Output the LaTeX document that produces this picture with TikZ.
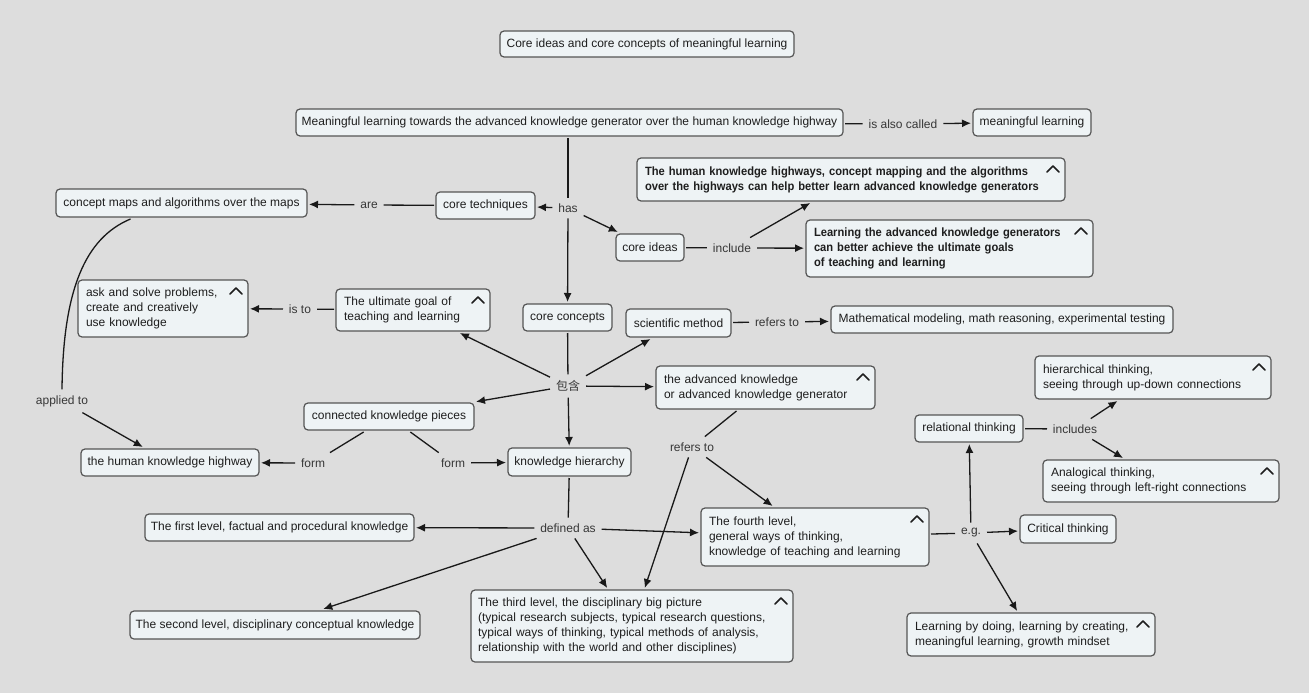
\documentclass[tikz,border=0pt]{standalone}
\usepackage{fontspec}
\setmainfont{Liberation Sans}
\newfontfamily\cjk{Noto Sans CJK SC}
\newfontfamily\bcond[FakeStretch=0.93]{Liberation Sans}
\usetikzlibrary{arrows.meta}
\definecolor{bgc}{RGB}{221,221,221}
\definecolor{boxc}{RGB}{238,243,245}
\definecolor{bordc}{RGB}{85,85,85}
\definecolor{txtc}{RGB}{30,30,30}
\definecolor{labc}{RGB}{55,55,55}
\definecolor{linec}{RGB}{25,25,25}
\newcommand{\fs}{\fontsize{12}{15}\selectfont}
\newcommand{\chev}[1]{\draw[chevst] ([shift={(-20,16)}]#1.north east) -- ++(6,-6) -- ++(6,6);}
\begin{document}
\begin{tikzpicture}[x=1pt,y=-1pt,
  box/.style={draw=bordc, fill=boxc, rounded corners=4pt, line width=1.2pt,
    minimum height=27pt, inner sep=0pt, outer sep=2pt, text=txtc, font=\fs},
  mbox/.style={box, align=left},
  lab/.style={inner sep=6pt, outer sep=0pt, text=labc, font=\fs},
  conn/.style={draw=linec, line width=1.3pt},
  arr/.style={conn, -{Latex[length=9pt,width=8pt]}},
  chevst/.style={draw=txtc, line width=1.5pt, line cap=round, line join=round}]
\useasboundingbox (0,0) rectangle (1309,693);
\fill[bgc] (0,0) rectangle (1309,693);

% boxes
\node[box, minimum width=294pt, minimum height=26pt] (title) at (647,44) {Core ideas and core concepts of meaningful learning};
\node[box, minimum width=547pt] (main) at (569.5,122.5) {Meaningful learning towards the advanced knowledge generator over the human knowledge highway};
\node[box, minimum width=118pt] (ml) at (1032,122.5) {meaningful learning};
\node[box, minimum width=99pt] (coretech) at (485.5,205.5) {core techniques};
\node[box, minimum width=68pt] (coreideas) at (650,247.5) {core ideas};
\node[mbox, minimum width=428pt, text width=412pt, minimum height=43pt, font=\fs\bcond\bfseries] (ideaA) at (851,179.5) {The human knowledge highways, concept mapping and the algorithms\\over the highways can help better learn advanced knowledge generators};
\node[mbox, minimum width=287pt, text width=271pt, minimum height=57pt, font=\fs\bcond\bfseries] (ideaB) at (949.5,248.5) {Learning the advanced knowledge generators\\can better achieve the ultimate goals\\of teaching and learning};
\node[box, minimum width=251pt, minimum height=28pt] (cmaps) at (181.5,203) {concept maps and algorithms over the maps};
\node[mbox, minimum width=154pt, text width=138pt, minimum height=42pt] (goal) at (413,310) {The ultimate goal of\\teaching and learning};
\node[mbox, minimum width=170pt, text width=154pt, minimum height=57pt] (ask) at (163,308.5) {ask and solve problems,\\create and creatively\\use knowledge};
\node[box, minimum width=89pt] (concepts) at (567.5,317.5) {core concepts};
\node[box, minimum width=105pt, minimum height=28pt] (sci) at (678.5,323) {scientific method};
\node[box, minimum width=342pt] (math) at (1002,319.5) {Mathematical modeling, math reasoning, experimental testing};
\node[mbox, minimum width=219pt, text width=203pt, minimum height=43pt] (adv) at (765.5,387.5) {the advanced knowledge\\or advanced knowledge generator};
\node[box, minimum width=170pt] (pieces) at (389,416.5) {connected knowledge pieces};
\node[box, minimum width=178pt] (highway) at (170,462.5) {the human knowledge highway};
\node[box, minimum width=123pt, minimum height=28pt] (hier) at (569.5,462) {knowledge hierarchy};
\node[box, minimum width=269pt] (first) at (279.5,527.5) {The first level, factual and procedural knowledge};
\node[mbox, minimum width=228pt, text width=212pt, minimum height=58pt] (fourth) at (815,537) {The fourth level,\\general ways of thinking,\\knowledge of teaching and learning};
\node[box, minimum width=290pt, minimum height=28pt] (second) at (275,625) {The second level, disciplinary conceptual knowledge};
\node[mbox, minimum width=322pt, text width=308pt, minimum height=72pt] (third) at (632,626) {The third level, the disciplinary big picture\\(typical research subjects, typical research questions,\\typical ways of thinking, typical methods of analysis,\\relationship with the world and other disciplines)};
\node[box, minimum width=96pt, minimum height=28pt] (critical) at (1068,529) {Critical thinking};
\node[box, minimum width=108pt] (relational) at (969,428.5) {relational thinking};
\node[mbox, minimum width=236pt, text width=220pt, minimum height=43pt] (hierth) at (1153,377.5) {hierarchical thinking,\\seeing through up-down connections};
\node[mbox, minimum width=236pt, text width=220pt, minimum height=42pt] (analog) at (1161,481) {Analogical thinking,\\seeing through left-right connections};
\node[mbox, minimum width=248pt, text width=232pt, minimum height=43pt] (doing) at (1031,634.5) {Learning by doing, learning by creating,\\meaningful learning, growth mindset};

% chevrons
\chev{ideaA}
\chev{ideaB}
\chev{goal}
\chev{ask}
\chev{adv}
\chev{fourth}
\chev{third}
\chev{hierth}
\chev{analog}
\chev{doing}

% link labels
\node[lab] (alsocalled) at (903,124) {is also called};
\node[lab] (has) at (568,208) {has};
\node[lab] (are) at (369,205) {are};
\node[lab] (include) at (732,248) {include};
\node[lab] (isto) at (300,309) {is to};
\node[lab] (refers1) at (777,322) {refers to};
\node[lab, font=\fs\cjk] (baohan) at (568,386) {包含};
\node[lab] (applied) at (62,401) {applied to};
\node[lab] (form1) at (313,463) {form};
\node[lab] (form2) at (453,463) {form};
\node[lab] (refers2) at (692,447) {refers to};
\node[lab] (defined) at (568,528) {defined as};
\node[lab] (eg) at (971,533) {e.g.};
\node[lab] (includes) at (1075,429) {includes};

% connectors
\draw[conn] (main) -- (alsocalled);
\draw[arr] (alsocalled) -- (ml);
\draw[conn] (main.south -| has) -- (has);
\draw[arr] (has) -- (coretech);
\draw[arr] (has) -- (coreideas);
\draw[arr] (has) -- (concepts);
\draw[conn] (coretech) -- (are);
\draw[arr] (are) -- (cmaps);
\draw[conn] (coreideas) -- (include);
\draw[arr] (include) -- (ideaA);
\draw[arr] (include) -- (ideaB);
\draw[conn] (goal) -- (isto);
\draw[arr] (isto) -- (ask);
\draw[conn] (sci) -- (refers1);
\draw[arr] (refers1) -- (math);
\draw[conn] (concepts) -- (baohan);
\draw[arr] (baohan) -- (goal);
\draw[arr] (baohan) -- (sci);
\draw[arr] (baohan) -- (adv);
\draw[arr] (baohan) -- (pieces);
\draw[arr] (baohan) -- (hier);
\draw[conn] ([xshift=-51pt]cmaps.south) .. controls (85,238) and (63,290) .. (applied.north);
\draw[arr] (applied) -- (highway);
\draw[conn] (pieces) -- (form1);
\draw[arr] (form1) -- (highway);
\draw[conn] (pieces) -- (form2);
\draw[arr] (form2) -- (hier);
\draw[conn] (adv) -- (refers2);
\draw[arr] (refers2) -- (third);
\draw[arr] (refers2) -- (fourth);
\draw[conn] (hier) -- (defined);
\draw[arr] (defined) -- (first);
\draw[arr] (defined) -- (fourth);
\draw[arr] (defined) -- (second);
\draw[arr] (defined) -- (third);
\draw[conn] (fourth) -- (eg);
\draw[arr] (eg) -- (critical);
\draw[arr] (eg) -- (relational);
\draw[arr] (eg) -- (doing);
\draw[conn] (relational) -- (includes);
\draw[arr] (includes) -- (hierth);
\draw[arr] (includes) -- (analog);
\end{tikzpicture}
\end{document}
